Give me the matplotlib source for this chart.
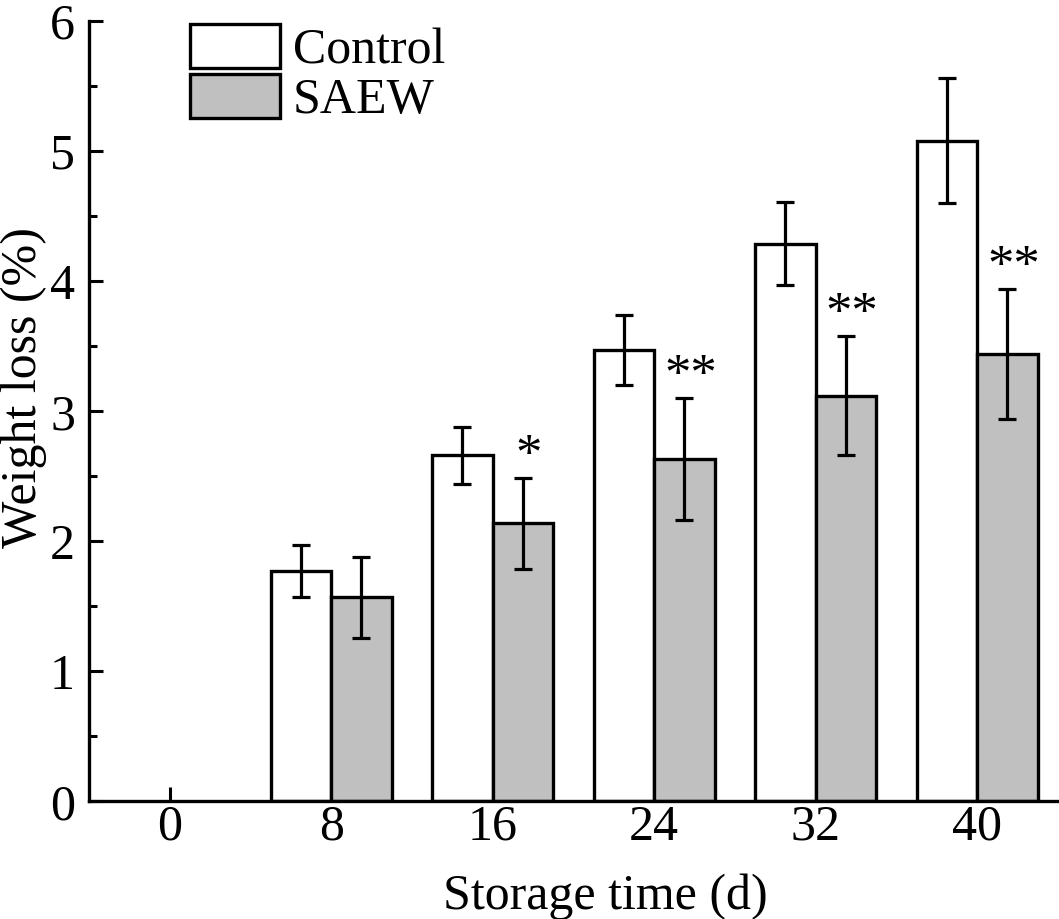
import numpy as np
import matplotlib.pyplot as plt
from matplotlib.ticker import MultipleLocator

plt.rcParams["font.family"] = ["Liberation Serif", "DejaVu Serif"]

# data
days = [0, 8, 16, 24, 32, 40]
control = [0, 1.77, 2.66, 3.47, 4.29, 5.08]
control_err = [0, 0.20, 0.22, 0.27, 0.32, 0.48]
saew = [0, 1.57, 2.14, 2.63, 3.12, 3.44]
saew_err = [0, 0.31, 0.35, 0.47, 0.46, 0.50]
signif = ["", "", "*", "**", "**", "**"]

x = np.array(days, dtype=float)
width = 3.0

fig = plt.figure(figsize=(10.59, 9.19), dpi=100)
ax = fig.add_axes([0.084, 0.128, 0.915, 0.849])

err_kw = dict(ecolor="black", elinewidth=2.3, capsize=6.5, capthick=2.3)

has = np.array(control) > 0
ax.bar(x[has] - width / 2, np.array(control)[has], width, color="white",
       edgecolor="black", linewidth=2.4, label="Control", zorder=2)
ax.errorbar(x[has] - width / 2, np.array(control)[has],
            yerr=np.array(control_err)[has], fmt="none", zorder=3, **err_kw)
ax.bar(x[has] + width / 2, np.array(saew)[has], width, color="#c0c0c0",
       edgecolor="black", linewidth=2.4, label="SAEW", zorder=2)
ax.errorbar(x[has] + width / 2, np.array(saew)[has],
            yerr=np.array(saew_err)[has], fmt="none", zorder=3, **err_kw)

# significance marks above SAEW error bars
for xi, v, e, s in zip(x, saew, saew_err, signif):
    if s:
        ax.text(xi + width / 2 + 0.3, v + e + 0.06, s, ha="center",
                va="baseline", fontsize=38)

ax.set_xlim(-4, 44)
ax.set_ylim(0, 6)
ax.set_xticks(days)
ax.set_xticklabels([str(d) for d in days])
ax.yaxis.set_major_locator(MultipleLocator(1))
ax.yaxis.set_minor_locator(MultipleLocator(0.5))

ax.spines["top"].set_visible(False)
ax.spines["right"].set_visible(False)
ax.spines["left"].set_linewidth(2.4)
ax.spines["bottom"].set_linewidth(2.4)
ax.tick_params(axis="both", which="major", direction="in", length=10,
               width=2.2, labelsize=36)
ax.tick_params(axis="x", which="major", pad=2)
ax.tick_params(axis="y", which="major", pad=10)
ax.tick_params(axis="y", which="minor", direction="in", length=5.5, width=2.2)

ax.set_xlabel("Storage time (d)", fontsize=36)
ax.set_ylabel("Weight loss (%)", fontsize=36)
ax.xaxis.set_label_coords(0.533, -0.093)
ax.yaxis.set_label_coords(-0.043, 0.53)

leg = ax.legend(loc="upper left", bbox_to_anchor=(0.104, 0.996), fontsize=36,
                frameon=False, handlelength=1.8, handleheight=0.97,
                handletextpad=0.26, labelspacing=0.0, borderpad=0.0,
                borderaxespad=0.0)
for p in leg.get_patches():
    p.set_linewidth(2.4)

fig.savefig("out.png", dpi=100)
